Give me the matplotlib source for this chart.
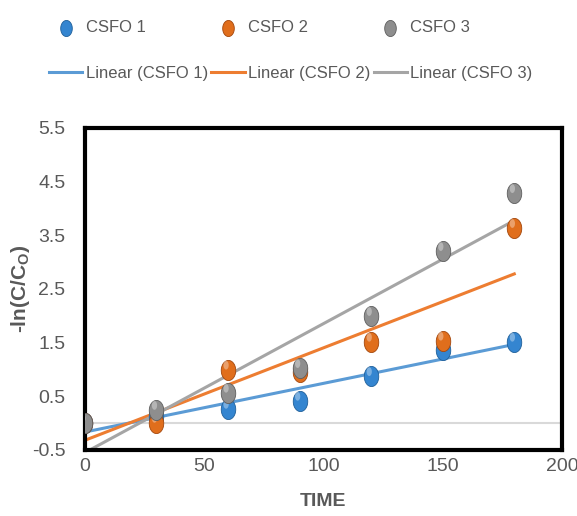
import matplotlib
matplotlib.use("Agg")
import matplotlib.pyplot as plt
from matplotlib.path import Path
import numpy as np

time = [0, 30, 60, 90, 120, 150, 180]
csfo1 = [0.0, 0.13, 0.26, 0.41, 0.87, 1.37, 1.51]
csfo2 = [0.0, 0.0, 0.99, 0.95, 1.51, 1.53, 3.63]
csfo3 = [0.0, 0.24, 0.56, 1.02, 1.99, 3.20, 4.28]
names = ["CSFO 1", "CSFO 2", "CSFO 3"]
yticks = [-0.5, 0.5, 1.5, 2.5, 3.5, 4.5, 5.5]
xticks = [0, 50, 100, 150, 200]

line_cols = ["#5B9BD5", "#ED7D31", "#A5A5A5"]
dot_cols = ["#3485D0", "#E06E1C", "#8E8E8E"]
edge_cols = ["#1F5F99", "#A3460B", "#5E5E5E"]
txt = "#595959"
plt.rcParams["font.family"] = ["Liberation Sans", "DejaVu Sans"]

# tall ellipse marker, like the stretched balls of the original
t = np.linspace(0, 2 * np.pi, 60)
ball = Path(np.column_stack([np.cos(t) * 0.72, np.sin(t)]), closed=True)
t2 = np.linspace(0, 2 * np.pi, 30)
shine = Path(np.column_stack([np.cos(t2) * 0.6, np.sin(t2)]), closed=True)

fig = plt.figure(figsize=(5.77, 5.16), dpi=100)
ax = fig.add_axes([0.147, 0.128, 0.827, 0.624])

ax.axhline(0, color="#D9D9D9", lw=1.5, zorder=1)

x = np.array(time, dtype=float)
dots, lines = [], []
for i, ys in enumerate([csfo1, csfo2, csfo3]):
    ys = np.array(ys)
    k, b = np.polyfit(x, ys, 1)
    xx = np.array([0, 180])
    ln, = ax.plot(xx, k * xx + b, color=line_cols[i], lw=2.2, zorder=2,
                  label="Linear (%s)" % names[i])
    sc = ax.scatter(x, ys, s=210, marker=ball, color=dot_cols[i],
                    edgecolors=edge_cols[i], linewidths=0.6, zorder=3 + i,
                    label=names[i])
    ax.scatter(x - 0.8, ys + 0.09, s=40, marker=shine, color="white",
               alpha=0.35, edgecolors="none", zorder=3 + i)
    dots.append(sc)
    lines.append(ln)

ax.set_xlim(0, 200)
ax.set_ylim(-0.5, 5.5)
ax.set_xticks(xticks)
ax.set_yticks(yticks)
ax.set_yticklabels(["%.1f" % v for v in yticks])
ax.tick_params(length=0, labelsize=14, labelcolor=txt)
ax.tick_params(axis="y", pad=14)
ax.tick_params(axis="x", pad=6)
for sp in ax.spines.values():
    sp.set_linewidth(3)
    sp.set_color("black")

ax.set_xlabel("TIME", fontsize=14, color=txt, fontweight="bold", labelpad=13)
ax.set_ylabel(r"-ln(C/C$_\mathregular{O}$)", fontsize=15, color=txt,
              fontweight="bold", labelpad=0)

handles = []
for d, l in zip(dots, lines):
    handles += [d, l]
leg = fig.legend(handles, [h.get_label() for h in handles], ncol=3,
                 loc="upper center", bbox_to_anchor=(0.504, 0.99), frameon=False,
                 fontsize=12, labelcolor=txt, labelspacing=1.85,
                 columnspacing=0.2, handlelength=2.0, handletextpad=0.2,
                 markerscale=0.8)

fig.savefig("out.png", dpi=100)
